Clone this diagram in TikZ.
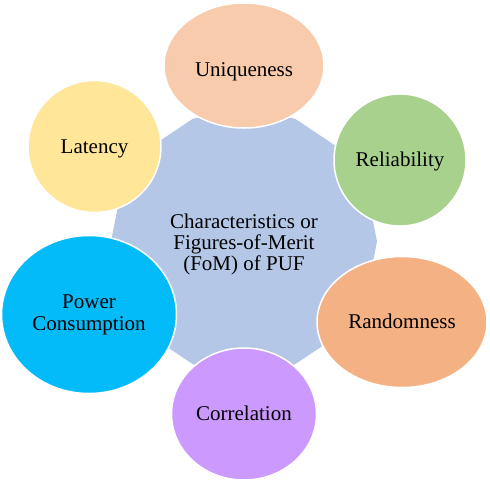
\documentclass[tikz,border=0pt]{standalone}
\usepackage{fontspec}
\setmainfont{Liberation Serif}
\usetikzlibrary{shapes.geometric}
\definecolor{hubcol}{HTML}{B4C7E7}
\definecolor{unicol}{HTML}{F8CBAD}
\definecolor{latcol}{HTML}{FFE699}
\definecolor{relcol}{HTML}{A9D18E}
\definecolor{rancol}{HTML}{F4B183}
\definecolor{corcol}{HTML}{CC99FF}
\definecolor{powcol}{HTML}{03BBF9}
\newcommand{\bl}[2]{\raisebox{-#1pt}[0pt][0pt]{#2}}
\begin{document}
\begin{tikzpicture}[x=1pt,y=-1pt,
  bub/.style={ellipse, draw=white, line width=1.5pt, inner sep=0pt, align=center,
    font=\fontsize{21}{22}\selectfont},
  hubtext/.style={align=center, inner sep=0pt, font=\fontsize{21}{20.8}\selectfont}]
\useasboundingbox (0,0) rectangle (490,483);
\coordinate (hc) at (244,241.5);
\fill[hubcol, shift={(hc)}] (0:133) \foreach \a in {22.5,45,...,337.5}{ -- (\a:133)} -- cycle;
\node[hubtext] (hub) at (244,244.5) {Characteristics or\\Figures-of-Merit\\(FoM) of PUF};
\node[bub, fill=unicol, minimum width=160pt, minimum height=125pt] (uni) at (244,65.5) {\bl{10.5}{Uniqueness}};
\node[bub, fill=latcol, minimum width=133pt, minimum height=132pt] (lat) at (94.5,146.5) {\bl{6.5}{Latency}};
\node[bub, fill=relcol, minimum width=132pt, minimum height=132pt] (rel) at (400,160) {\bl{6}{Reliability}};
\node[bub, fill=rancol, minimum width=170pt, minimum height=131pt] (ran) at (402,322) {\bl{6}{Randomness}};
\node[bub, fill=corcol, minimum width=145pt, minimum height=132pt] (cor) at (244,414) {\bl{6.7}{Correlation}};
\node[bub, fill=powcol, minimum width=175pt, minimum height=158pt] (pow) at (89,314.5) {Power\\Consumption};
\end{tikzpicture}
\end{document}
